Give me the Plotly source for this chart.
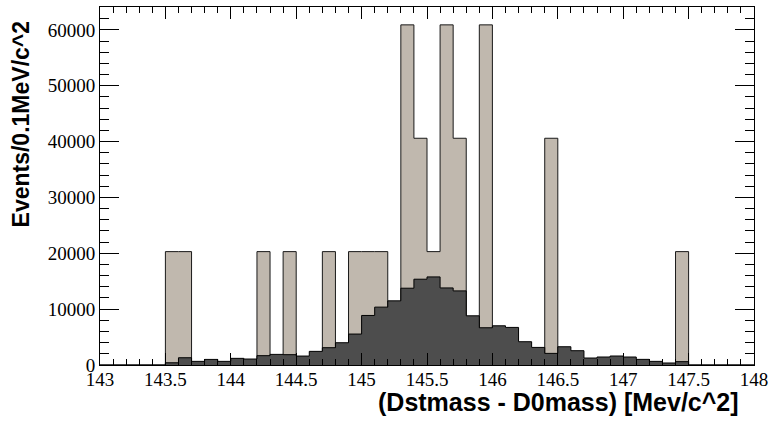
import numpy as np
import plotly.graph_objects as go

# Histogram binning (0.1 MeV/c^2 bins from 143 to 148)
bin_low = 143.0
bin_width = 0.1
n_bins = 50

# Light (weighted) histogram contents per bin
light_counts = [
    0, 0, 0, 0, 0, 20300, 20300, 0, 0, 0,
    0, 0, 20300, 0, 20300, 0, 0, 20300, 0, 20300,
    20300, 20300, 0, 60900, 40600, 20300, 60900, 40600, 0, 60900,
    0, 0, 0, 0, 40600, 0, 0, 0, 0, 0,
    0, 0, 0, 0, 20300, 0, 0, 0, 0, 0,
]

# Dark histogram contents per bin
dark_counts = [
    0, 0, 0, 0, 0, 400, 1300, 650, 1000, 650,
    1190, 1070, 1670, 1900, 1850, 1600, 2440, 3100, 3990, 5540,
    8870, 10360, 11490, 13750, 15360, 15770, 13800, 13270, 8810, 6670,
    7020, 6730, 4170, 3150, 2080, 3270, 2560, 1250, 1430, 1610,
    1430, 1010, 650, 360, 600, 0, 0, 0, 0, 0,
]

x_tick_vals = [143, 143.5, 144, 144.5, 145, 145.5, 146, 146.5, 147, 147.5, 148]
x_tick_text = ["143", "143.5", "144", "144.5", "145", "145.5", "146", "146.5", "147", "147.5", "148"]
y_tick_vals = [0, 10000, 20000, 30000, 40000, 50000, 60000]
y_tick_text = ["0", "10000", "20000", "30000", "40000", "50000", "60000"]

x_title = "(Dstmass - D0mass) [Mev/c^2]"
y_title = "Events/0.1MeV/c^2"

edges = bin_low + bin_width * np.arange(n_bins + 1)


def step(values):
    v = list(values)
    return edges, v + [v[-1]]


fig = go.Figure()
lx, ly = step(light_counts)
fig.add_trace(go.Scatter(x=lx, y=ly, mode="lines", line=dict(shape="hv", color="#1a1a1a", width=1),
                         fill="tozeroy", fillcolor="#c0b8ae", hoverinfo="skip", showlegend=False))
dx, dy = step(dark_counts)
fig.add_trace(go.Scatter(x=dx, y=dy, mode="lines", line=dict(shape="hv", color="#000000", width=1),
                         fill="tozeroy", fillcolor="#4d4d4d", hoverinfo="skip", showlegend=False))

tick_font = dict(family="Times New Roman, Times, Liberation Serif, Noto Serif, DejaVu Serif, serif",
                 size=19, color="black")
fig.update_xaxes(range=[143, 148], showgrid=False, zeroline=False,
                 showline=True, linecolor="black", linewidth=1, mirror="ticks",
                 ticks="inside", ticklen=12, tickcolor="black", tickwidth=1,
                 tickvals=x_tick_vals, ticktext=x_tick_text, tickfont=tick_font,
                 ticklabelstandoff=-3,
                 minor=dict(ticks="inside", dtick=0.1, ticklen=6, tickcolor="black", tickwidth=1, showgrid=False))
fig.update_yaxes(range=[0, 64100], showgrid=False, zeroline=False,
                 showline=True, linecolor="black", linewidth=1, mirror="ticks",
                 ticks="inside", ticklen=19, tickcolor="black", tickwidth=1,
                 tickvals=y_tick_vals, ticktext=y_tick_text, tickfont=tick_font,
                 minor=dict(ticks="inside", dtick=2000, ticklen=9, tickcolor="black", tickwidth=1, showgrid=False))

fig.add_annotation(text=x_title, xref="paper", yref="paper", x=(745 - 100) / 658, y=(365 - 402) / 359,
                   xanchor="right", yanchor="middle", showarrow=False,
                   font=dict(family="Liberation Sans", size=25, color="black", weight="bold"))
fig.add_annotation(text=y_title, xref="paper", yref="paper", x=(20 - 100) / 658, y=(365 - 18) / 359,
                   xanchor="center", yanchor="top", textangle=-90, showarrow=False,
                   font=dict(family="Liberation Sans", size=23, color="black", weight="bold"))

fig.update_layout(width=774, height=425, margin=dict(l=100, r=16, t=6, b=60),
                  plot_bgcolor="white", paper_bgcolor="white", showlegend=False)

fig.write_html("out.html")
